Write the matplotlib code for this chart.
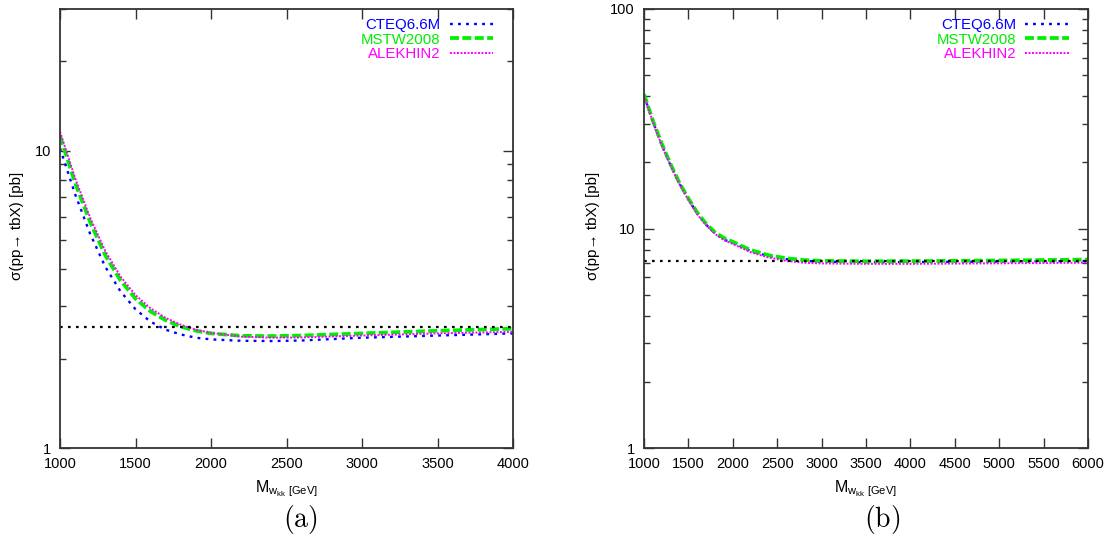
import matplotlib.pyplot as plt
from matplotlib.ticker import LogLocator, NullFormatter, FixedLocator

plt.rcParams['font.family'] = ['Liberation Sans', 'DejaVu Sans']
plt.rcParams['mathtext.fontset'] = 'cm'

# (a) M_wkk [GeV] vs cross section [pb]
mass_a = [1000, 1100, 1200, 1300, 1400, 1500, 1600, 1700, 1800, 1900, 2000,
          2200, 2400, 2600, 3000, 3500, 4000]
cteq_a = [10.2, 7.15, 5.25, 4.07, 3.37, 2.93, 2.66, 2.50, 2.41, 2.35, 2.32,
          2.295, 2.29, 2.30, 2.35, 2.39, 2.43]
mstw_a = [11.2, 7.8, 5.75, 4.45, 3.67, 3.18, 2.88, 2.69, 2.56, 2.48, 2.43,
          2.385, 2.38, 2.39, 2.43, 2.48, 2.52]
alek_a = [11.6, 8.1, 5.95, 4.6, 3.78, 3.27, 2.95, 2.74, 2.60, 2.50, 2.44,
          2.37, 2.35, 2.355, 2.39, 2.43, 2.46]
sm_a = 2.55

# (b)
mass_b = [1000, 1100, 1200, 1300, 1400, 1500, 1600, 1700, 1800, 1900, 2000,
          2200, 2400, 2600, 2800, 3000, 3500, 4000, 4500, 5000, 5500, 6000]
cteq_b = [40.5, 30.7, 24.0, 19.4, 16.0, 13.6, 11.7, 10.4, 9.5, 8.9, 8.6,
          7.9, 7.5, 7.25, 7.12, 7.06, 7.02, 7.03, 7.05, 7.07, 7.09, 7.11]
mstw_b = [40.9, 31.0, 24.3, 19.6, 16.1, 13.7, 11.8, 10.5, 9.6, 9.05, 8.7,
          7.98, 7.56, 7.32, 7.18, 7.12, 7.09, 7.1, 7.12, 7.15, 7.18, 7.22]
alek_b = [40.2, 30.5, 23.9, 19.3, 15.9, 13.5, 11.6, 10.35, 9.45, 8.85, 8.5,
          7.8, 7.38, 7.12, 6.98, 6.93, 6.9, 6.9, 6.92, 6.94, 6.96, 6.99]
sm_b = 7.14

labels = ['CTEQ6.6M', 'MSTW2008', 'ALEKHIN2']
colors = ['#0000ff', '#00ee00', '#ff00ff']

fig = plt.figure(figsize=(11.09, 5.37), dpi=100)
ax1 = fig.add_axes([60/1109, 1-448/537, 453/1109, 439/537])
ax2 = fig.add_axes([644/1109, 1-448/537, 444/1109, 439/537])


def panel(ax, x, ys, sm, xmax, ymax, xstep, leg_x):
    ax.plot(x, ys[0], color=colors[0], lw=1.7, ls=(0, (1.2, 2.2)), label=labels[0])
    ax.plot(x, ys[1], color=colors[1], lw=2.7, ls=(0, (2.4, 0.9)), label=labels[1])
    ax.plot(x, ys[2], color=colors[2], lw=1.4, ls=(0, (1, 0.8)), label=labels[2])
    ax.axhline(sm, color='black', lw=1.6, ls=(0, (1.2, 2.4)))
    ax.set_yscale('log')
    ax.set_xlim(1000, xmax)
    ax.set_ylim(1, ymax)
    ax.xaxis.set_major_locator(FixedLocator(range(1000, xmax + 1, xstep)))
    ax.yaxis.set_major_locator(LogLocator(base=10, numticks=5))
    ax.yaxis.set_minor_locator(LogLocator(base=10, subs=range(2, 10), numticks=20))
    ax.yaxis.set_minor_formatter(NullFormatter())
    ax.yaxis.set_major_formatter(plt.FuncFormatter(lambda v, p: '%g' % v))
    ax.tick_params(which='both', direction='in', top=True, right=True,
                   labelsize=10.5, color='#333333')
    ax.tick_params(which='major', length=7, width=1)
    ax.tick_params(which='minor', length=4, width=1)
    ax.tick_params(axis='x', pad=6.5)
    ax.tick_params(axis='y', pad=6.5)
    for s in ax.spines.values():
        s.set_linewidth(1.3)
        s.set_color('#333333')
    ax.set_ylabel(r'σ(pp→ tbX) [pb]', fontsize=11)
    ax.set_xlabel(r'$\mathregular{M_{w_{kk}\ [GeV]}}$', fontsize=11.5, labelpad=5)
    ax.legend(loc='upper right', bbox_to_anchor=(leg_x, 0.98), frameon=False,
              markerfirst=False, labelcolor='linecolor', fontsize=10.8,
              handlelength=2.9, handletextpad=0.6, labelspacing=0.05,
              borderaxespad=0, borderpad=0)


panel(ax1, mass_a, [cteq_a, mstw_a, alek_a], sm_a, 4000, 30, 500, 0.956)
panel(ax2, mass_b, [cteq_b, mstw_b, alek_b], sm_b, 6000, 100, 500, 0.9565)
ax1.yaxis.set_label_coords(-0.079, 0.507)
ax2.yaxis.set_label_coords(-0.099, 0.507)

fig.text(300/1109, 0.018, r'$\mathrm{(a)}$', fontsize=20, ha='center')
fig.text(882/1109, 0.018, r'$\mathrm{(b)}$', fontsize=20, ha='center')

fig.savefig('out.png', dpi=100)
